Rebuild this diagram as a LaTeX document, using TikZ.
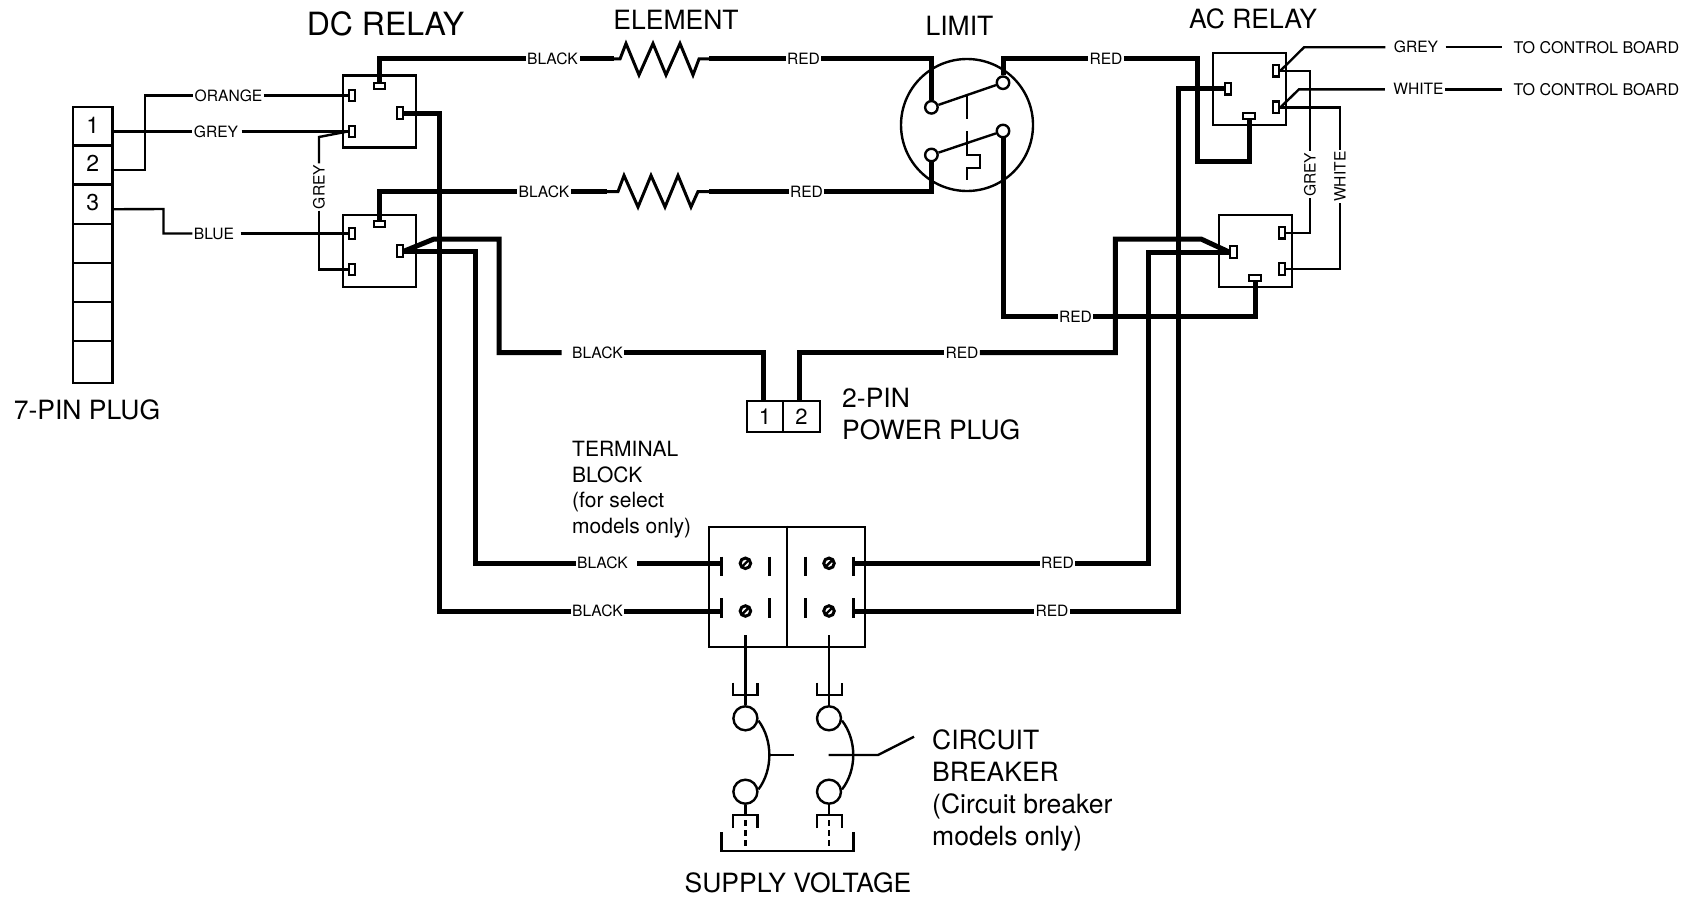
\documentclass[tikz,border=0pt]{standalone}
\usepackage{fontspec}
\setmainfont{TeX Gyre Heros}
\tikzset{
	heavy/.style={line width=5pt},
	fine/.style={line width=2.4pt},
	wirelbl/.style={font=\fontsize{15.6}{18}\selectfont,inner sep=1.5pt,outer sep=0pt},
	biglbl/.style={font=\fontsize{26.5}{32}\selectfont,inner sep=0pt,align=left},
	relay/.style={draw,line width=2.4pt,minimum width=73pt,minimum height=72pt,inner sep=0pt},
	pinup/.style={draw,fill=white,line width=2.4pt,minimum width=6.5pt,minimum height=11.5pt,inner sep=0pt},
	pinflat/.style={draw,fill=white,line width=2.4pt,minimum width=11.5pt,minimum height=5.5pt,inner sep=0pt},
	plugcell/.style={draw,line width=2.4pt,minimum width=39.5pt,minimum height=39pt,inner sep=0pt,text height=13pt,text depth=0pt,font=\fontsize{23}{26}\selectfont},
	contact/.style={circle,draw,fill=white,line width=2.4pt,minimum size=12.5pt,inner sep=0pt},
	breaker/.style={circle,draw,line width=2.4pt,minimum size=24pt,inner sep=0pt},
	screw/.style={circle,draw,line width=3pt,minimum size=10.5pt,inner sep=0pt,
		path picture={\draw[line width=2.4pt] (path picture bounding box.south west) -- (path picture bounding box.north east);}},
	lug/.style={line width=3pt}
}
\begin{document}
\begin{tikzpicture}[x=1pt,y=-1pt]
	\useasboundingbox (0,0) rectangle (1685,899);
	\node[plugcell] (plugA) at (92.75,126.5) {1};
	\node[plugcell] (plugB) at (92.75,165) {2};
	\node[plugcell] (plugC) at (92.75,204.25) {3};
	\node[plugcell] (plugD) at (92.75,243.5) {};
	\node[plugcell] (plugE) at (92.75,282.5) {};
	\node[plugcell] (plugF) at (92.75,321.5) {};
	\node[plugcell,minimum height=42pt] (plugG) at (92.75,362) {};
	\node[biglbl] (plugname) at (87,410) {7-PIN PLUG};

	\node[biglbl,font=\fontsize{32}{34}\selectfont] (dcname) at (385.5,24) {DC RELAY};
	\node[relay] (dcA) at (379.5,111.5) {};
	\node[pinflat] (dcApinT) at (379.5,86) {};
	\node[pinup] (dcApinO) at (352,95.5) {};
	\node[pinup] (dcApinG) at (352,131.5) {};
	\node[pinup] (dcApinR) at (400,113) {};
	\node[relay] (dcB) at (379.5,251) {};
	\node[pinflat] (dcBpinT) at (379.5,224) {};
	\node[pinup] (dcBpinO) at (352,233.5) {};
	\node[pinup] (dcBpinG) at (352,269.5) {};
	\node[pinup] (dcBpinR) at (400,251) {};

	\node[wirelbl] (lblOrange) at (228.5,95.5) {ORANGE};
	\node[wirelbl] (lblGreyA) at (216,131.5) {GREY};
	\node[wirelbl] (lblBlue) at (214,233.5) {BLUE};
	\node[wirelbl,rotate=90] (lblGreyB) at (319,187) {GREY};
	\draw[fine] (lblOrange.east) -- (dcApinO.west);
	\draw[fine] ([yshift=-5pt]plugB.east) -- (145,170) |- (lblOrange.west);
	\draw[fine] ([yshift=-5pt]plugA.east) -- (lblGreyA.west);
	\draw[fine,shorten <=2pt] (lblGreyA.east) -- (dcApinG.west);
	\draw[fine] ([yshift=-5pt]plugC.east) -- (163.5,209) |- (lblBlue.west);
	\draw[fine,shorten <=5pt] (lblBlue.east) -- (dcBpinO.west);
	\draw[fine] (dcApinG.west) -- (319,137) -- (lblGreyB.east);
	\draw[fine] (lblGreyB.west) |- (dcBpinG.west);

	\node[wirelbl] (lblBlackA) at (552.5,59) {BLACK};
	\node[wirelbl] (lblBlackB) at (544,191.5) {BLACK};
	\node[wirelbl] (lblRedA) at (803.5,59) {RED};
	\node[wirelbl] (lblRedB) at (806.5,191.5) {RED};
	\node[biglbl] (elemname) at (676,20) {ELEMENT};
	\coordinate (elemAin) at (613.6,59);
	\coordinate (elemAout) at (709,59);
	\coordinate (elemBin) at (607,191.5);
	\coordinate (elemBout) at (709,191.5);
	\draw[heavy] (dcApinT.north) |- (lblBlackA.west);
	\draw[heavy,shorten <=1pt] (lblBlackA.east) -- (elemAin);
	\draw[line width=3pt] (elemAin) -- (620,59) -- (626,43.5) -- (639,75) -- (653,43.5) -- (666,75) -- (680,43.5) -- (693,75) -- (699,59) -- (elemAout);
	\draw[heavy] (elemAout) -- (lblRedA.west);
	\draw[heavy] (dcBpinT.north) |- (lblBlackB.west);
	\draw[heavy] (lblBlackB.east) -- (elemBin);
	\draw[line width=3pt] (elemBin) -- (618,191.5) -- (624,175.5) -- (638,207) -- (651,175.5) -- (665,207) -- (678,175.5) -- (691,207) -- (698,191.5) -- (elemBout);
	\draw[heavy] (elemBout) -- (lblRedB.west);

	\node[biglbl] (limname) at (959.5,25.7) {LIMIT};
	\node[circle,draw,line width=2.4pt,minimum size=132pt,inner sep=0pt] (limit) at (967,125) {};
	\node[contact] (limA) at (931.4,107.3) {};
	\node[contact] (limB) at (1003,82.7) {};
	\node[contact] (limC) at (931.4,155) {};
	\node[contact] (limD) at (1003,131) {};
	\draw[fine] (limA) -- (limB);
	\draw[fine] (limC) -- (limD);
	\draw[fine] (967,95) -- (967,119);
	\draw[fine] (967,131) -- (967,155) -- (980,155) -- (980,168) -- (967,168) -- (967,180);

	\node[wirelbl] (lblRedC) at (1106,59) {RED};
	\node[wirelbl] (lblRedD) at (1075.5,316.7) {RED};
	\node[wirelbl] (lblRedE) at (962,352.7) {RED};
	\draw[heavy] (lblRedA.east) -| (limA.north);
	\draw[heavy] (lblRedB.east) -| (limC.south);
	\draw[heavy] (limB.north) |- (lblRedC.west);
	\draw[heavy] (limD.south) |- (lblRedD.west);

	\node[biglbl] (acname) at (1253,19.3) {AC RELAY};
	\node[relay] (acA) at (1249.5,89) {};
	\node[pinflat] (acApinB) at (1249,116) {};
	\node[pinup] (acApinL) at (1228,88.7) {};
	\node[pinup] (acApinG) at (1276,70.7) {};
	\node[pinup] (acApinW) at (1276,107.3) {};
	\node[relay] (acB) at (1255.5,251) {};
	\node[pinflat] (acBpinB) at (1255,278) {};
	\node[pinup] (acBpinL) at (1233.5,252) {};
	\node[pinup] (acBpinG) at (1282,232.7) {};
	\node[pinup] (acBpinW) at (1282,269) {};
	\draw[heavy] (lblRedC.east) -| (1197.5,161) -| (acApinB.south);
	\draw[heavy] (lblRedD.east) -| (acBpinB.south);

	\node[wirelbl] (lblGreyC) at (1416,47.3) {GREY};
	\node[wirelbl] (lblWhite) at (1418.5,89.3) {WHITE};
	\node[wirelbl,rotate=90] (lblGreyD) at (1310,174.7) {GREY};
	\node[wirelbl,rotate=90] (lblWhiteB) at (1340,176.7) {WHITE};
	\node[wirelbl,font=\fontsize{16.1}{18}\selectfont,anchor=west,inner sep=0pt] (ctrlA) at (1513.5,47.3) {TO CONTROL BOARD};
	\node[wirelbl,font=\fontsize{16.1}{18}\selectfont,anchor=west,inner sep=0pt] (ctrlB) at (1513.5,89.3) {TO CONTROL BOARD};
	\draw[fine,shorten >=7pt] (acApinG.east) -- (1304,47.3) -- (lblGreyC.west);
	\draw[fine,shorten <=6pt,shorten >=12pt] (lblGreyC.east) -- (ctrlA.west);
	\draw[fine,shorten >=7pt] (acApinW.east) -- (1299,89.3) -- (lblWhite.west);
	\draw[fine,shorten >=12pt] (lblWhite.east) -- (ctrlB.west);
	\draw[fine] (acApinG.east) -- (1310,70.7) -- (lblGreyD.east);
	\draw[fine] (lblGreyD.west) |- (acBpinG.east);
	\draw[fine] (acApinW.east) -- (1340,107.3) -- (lblWhiteB.east);
	\draw[fine] (lblWhiteB.west) |- (acBpinW.east);

	\node[wirelbl] (lblBlackC) at (597.5,352.7) {BLACK};
	\node[draw,line width=2.4pt,minimum width=36.5pt,minimum height=31pt,inner sep=0pt,font=\fontsize{22}{26}\selectfont] (pwrA) at (765,416.5) {1};
	\node[draw,line width=2.4pt,minimum width=36.5pt,minimum height=31pt,inner sep=0pt,font=\fontsize{22}{26}\selectfont] (pwrB) at (801.5,416.5) {2};
	\node[biglbl,anchor=west] (pwrname) at (842,414.5) {2-PIN\\POWER PLUG};
	\draw[heavy,shorten >=9pt] (dcBpinR.east) -- (434,239) -- (499,239) |- (lblBlackC.west);
	\draw[heavy] (lblBlackC.east) -| ([xshift=-1.5pt]pwrA.north);
	\draw[heavy] (lblRedE.west) -| ([xshift=-2pt]pwrB.north);
	\draw[heavy] (lblRedE.east) -| (1115.4,239) -- (1201,239) -- (acBpinL.west);

	\node[biglbl,font=\fontsize{21}{25.8}\selectfont,anchor=west] (termname) at (572,489.7) {TERMINAL\\BLOCK\\(for select\\models only)};
	\node[draw,line width=2.4pt,minimum width=156pt,minimum height=120pt,inner sep=0pt] (block) at (787,586.7) {};
	\draw[fine] (block.north) -- (block.south);
	\node[screw] (scrA) at (745.4,563.3) {};
	\node[screw] (scrB) at (745.4,611) {};
	\node[screw] (scrC) at (829,563.3) {};
	\node[screw] (scrD) at (829,611) {};
	\draw[lug] (721.4,556.7) -- (721.4,576);
	\draw[lug] (721.4,598) -- (721.4,618);
	\draw[lug] (769.6,556.7) -- (769.6,576);
	\draw[lug] (769.6,598) -- (769.6,618);
	\draw[lug] (805,556.7) -- (805,576);
	\draw[lug] (805,598) -- (805,618);
	\draw[lug] (853.6,556.7) -- (853.6,576);
	\draw[lug] (853.6,598) -- (853.6,618);
	\coordinate (termA) at (721.4,563.3);
	\coordinate (termB) at (721.4,611);
	\coordinate (termC) at (853.6,563.3);
	\coordinate (termD) at (853.6,611);

	\node[wirelbl] (lblBlackD) at (602.5,563.3) {BLACK};
	\node[wirelbl] (lblBlackE) at (597.5,611) {BLACK};
	\node[wirelbl] (lblRedF) at (1057.5,563.3) {RED};
	\node[wirelbl] (lblRedG) at (1052,611) {RED};
	\draw[heavy] (dcBpinR.east) -- (475,251) |- (lblBlackD.west);
	\draw[heavy,shorten <=8pt] (lblBlackD.east) -- (termA);
	\draw[heavy] (dcApinR.east) -- (439,113) |- (lblBlackE.west);
	\draw[heavy] (lblBlackE.east) -- (termB);
	\draw[heavy] (termC) -- (lblRedF.west);
	\draw[heavy] (lblRedF.east) -- (1148,563.3) |- (acBpinL.west);
	\draw[heavy] (termD) -- (lblRedG.west);
	\draw[heavy] (acApinL.west) -- (1178,88.7) |- (lblRedG.east);

	\node[breaker] (cbAtop) at (745.4,718.3) {};
	\node[breaker] (cbAbot) at (745.4,791.7) {};
	\node[breaker] (cbBtop) at (829,718.3) {};
	\node[breaker] (cbBbot) at (829,791.7) {};
	\coordinate (tapA) at (745.4,635);
	\coordinate (tapB) at (829,635);
	\draw[fine] (tapA) -- (cbAtop.north);
	\draw[fine] (tapB) -- (cbBtop.north);
	\draw[fine] (733,682.7) |- (757.5,695) -- (757.5,682.7);
	\draw[fine] (817,682.7) |- (842,695) -- (842,682.7);
	\draw[fine] (cbAtop.-10) .. controls (773,740) and (773,770) .. (cbAbot.10);
	\draw[fine] (cbBtop.-10) .. controls (857,740) and (857,770) .. (cbBbot.10);
	\draw[fine] (769,755) -- (794,755);
	\draw[fine] (828.6,755) -- (878,755) -- (914,736.7);
	\draw[fine] (cbAbot.south) -- (745.4,815);
	\draw[fine] (cbBbot.south) -- (829,815);
	\draw[fine] (733,828) |- (757.5,815) -- (757.5,828);
	\draw[fine] (817,828) |- (842,815) -- (842,828);
	\draw[fine,dash pattern=on 6pt off 4pt] (745.4,820) -- (745.4,847);
	\draw[fine,dash pattern=on 6pt off 4pt] (829,820) -- (829,847);
	\draw[fine] (721.4,832) |- (853.6,851) -- (853.6,832);
	\node[biglbl,anchor=west] (cbname) at (932,790.3) {CIRCUIT\\BREAKER\\(Circuit breaker\\models only)};
	\node[biglbl] (supply) at (798,883) {SUPPLY VOLTAGE};
\end{tikzpicture}
\end{document}
